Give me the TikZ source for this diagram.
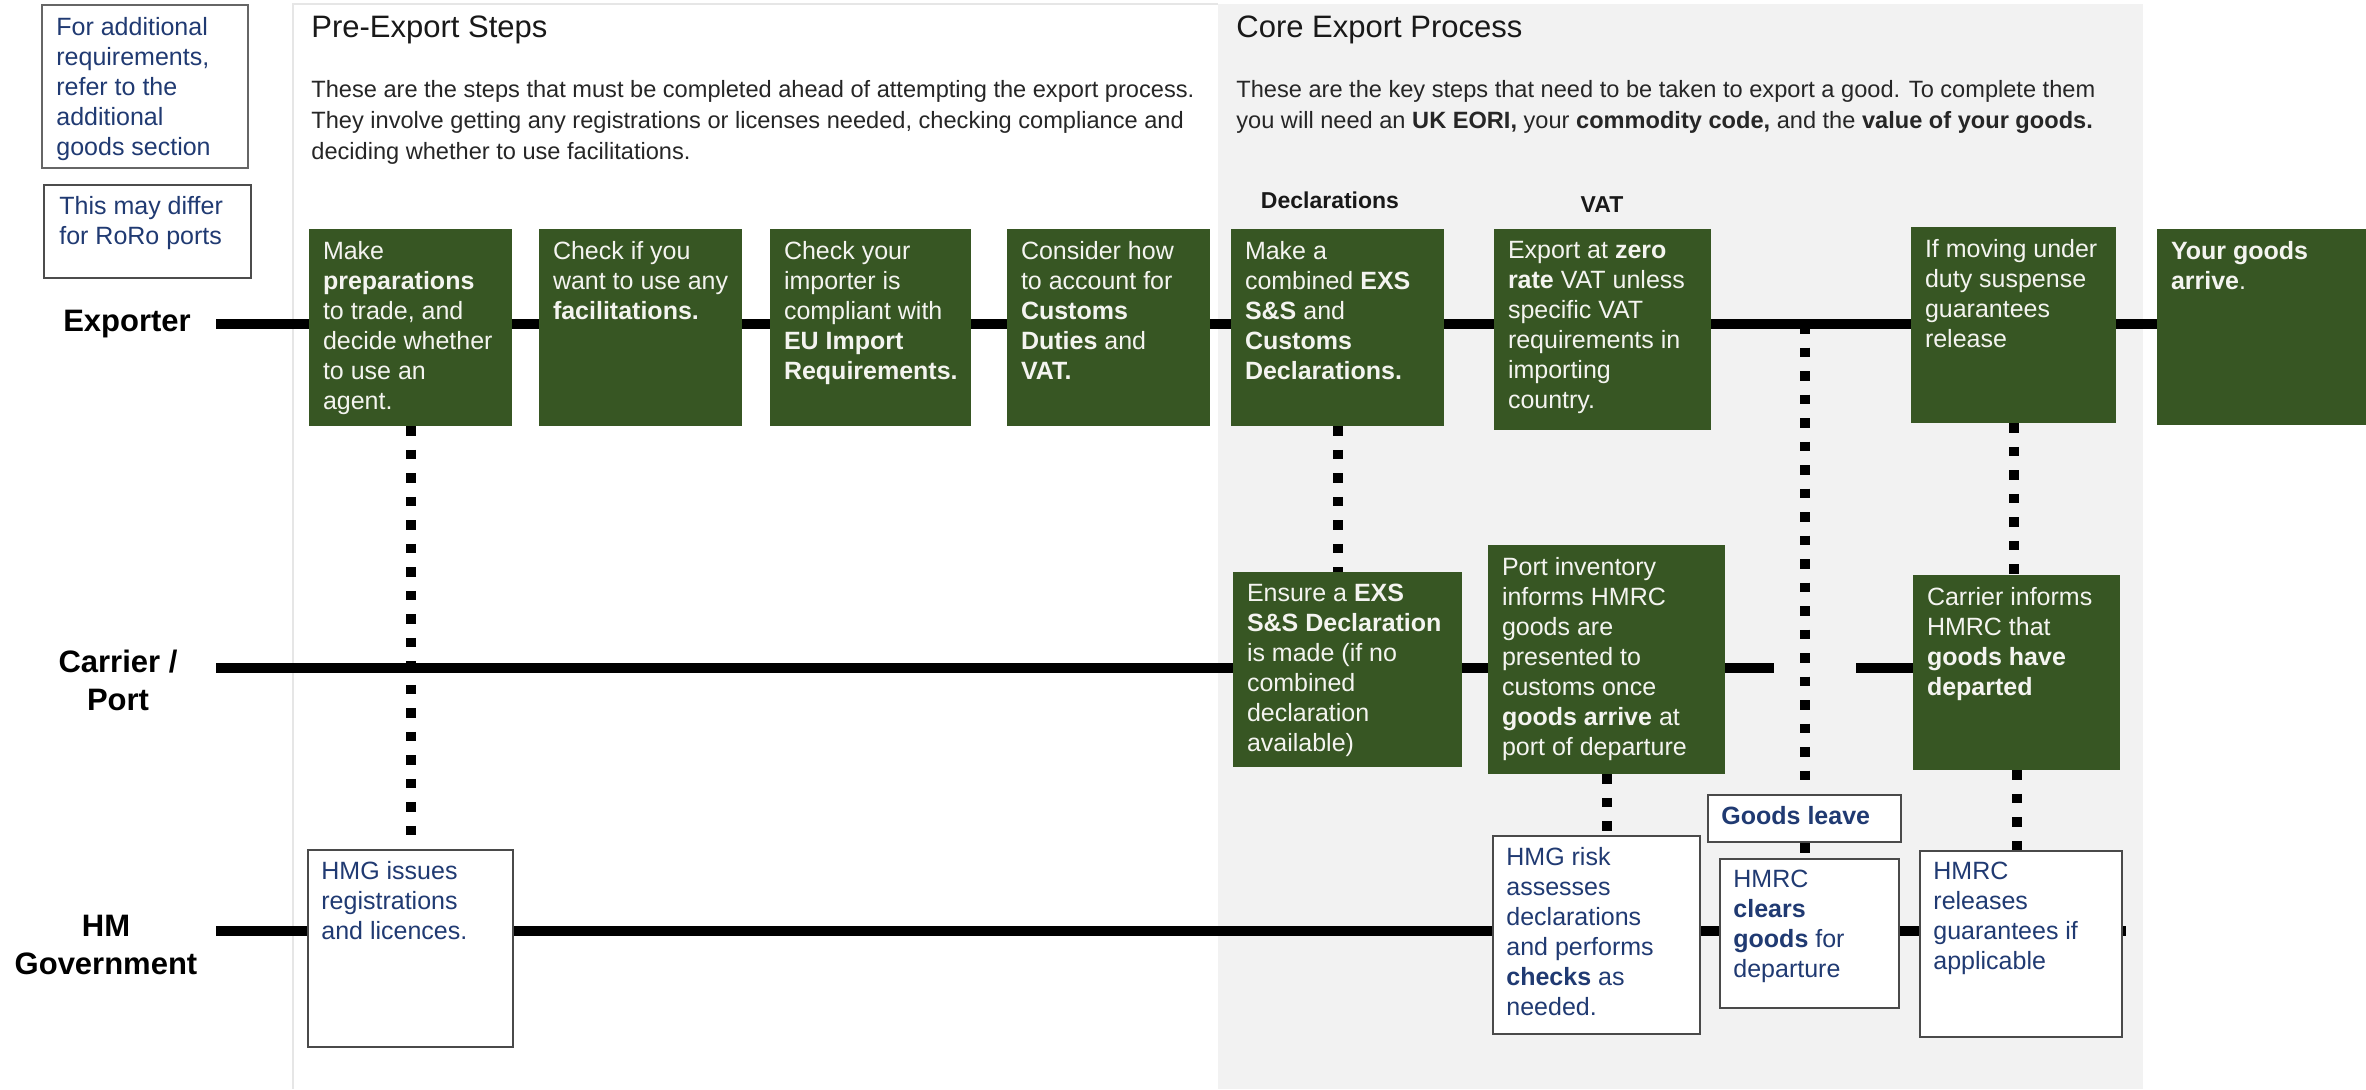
\documentclass[tikz,border=0pt]{standalone}
\usepackage{fontspec}
\setmainfont{Liberation Sans}
\usetikzlibrary{calc}
\definecolor{gfill}{HTML}{375623}
\definecolor{gtxt}{HTML}{F4F4F0}
\definecolor{navy}{HTML}{203A72}
\definecolor{coregray}{HTML}{F2F2F2}
\definecolor{boxline}{HTML}{4A4A4A}
\definecolor{faint}{HTML}{E6E6E6}
\pgfdeclarelayer{bgzero}
\pgfdeclarelayer{bgone}
\pgfsetlayers{bgzero,bgone,main}
\tikzset{
  lane/.style={line width=5pt, black},
  dots/.style={line width=5pt, black, dash pattern=on 4.75pt off 7pt},
  gbox/.style={rectangle, fill=gfill, draw=none, inner sep=0pt},
  wbox/.style={rectangle, fill=white, draw=boxline, line width=1pt, inner sep=0pt},
  gtext/.style={text=gtxt, align=left, inner sep=0pt, anchor=north west, font=\fontsize{12.5}{15}\selectfont},
  wtext/.style={text=navy, align=left, inner sep=0pt, anchor=north west, font=\fontsize{12.5}{15}\selectfont},
  lanelabel/.style={font=\fontsize{15.5}{19}\selectfont\bfseries, align=center, inner sep=0pt},
  titletext/.style={font=\fontsize{15.5}{19}\selectfont, anchor=west, inner sep=0pt, text=black!90},
  paratext/.style={font=\fontsize{11.8}{15.5}\selectfont, align=left, anchor=north west, inner sep=0pt, text=black!85},
  headtext/.style={font=\fontsize{11.5}{14}\selectfont\bfseries, inner sep=0pt, text=black!90},
}
% #1 style prefix (g or w), #2 name, #3-#6 x1 y1 x2 y2 (px), #7 text
\newcommand\mkbox[7]{%
  \node[#1box, minimum width={(#5-#3)*0.5pt}, minimum height={(#6-#4)*0.5pt}] (#2) at ({(#3+#5)/2},{(#4+#6)/2}) {};
  \node[#1text] (#2-t) at ([shift={(14,12)}]#2.north west) {#7};
}
\begin{document}
\begin{tikzpicture}[x=0.5pt, y=-0.5pt]
\useasboundingbox (0,0) rectangle (2366,1089);

% regions
\begin{pgfonlayer}{bgzero}
  \fill[white] (0,0) rectangle (2366,1089);
  \fill[coregray] (1218,4) rectangle (2143,1089);
  \draw[faint, line width=0.8pt] (293,1089) -- (293,4) -- (1218,4);
\end{pgfonlayer}

% note boxes
\node[wbox, draw=black!60, minimum width=103pt, minimum height=81.5pt] (n1) at (145,86.5) {};
\node[wtext] (n1-t) at ([shift={(15,13)}]n1.north west) {For additional\\requirements,\\refer to the\\additional\\goods section};
\node[wbox, draw=black!70, minimum width=103.5pt, minimum height=46.5pt] (n2) at (147.5,231.5) {};
\node[wtext] (n2-t) at ([shift={(16,12)}]n2.north west) {This may differ\\for RoRo ports};

% titles and paragraphs
\node[titletext] (pt) at (311,30) {Pre-Export Steps};
\node[paratext] (pp) at (311,80) {These are the steps that must be completed ahead of attempting the export process.\\They involve getting any registrations or licenses needed, checking compliance and\\deciding whether to use facilitations.};
\node[titletext] (ct) at (1236,30) {Core Export Process};
\node[paratext] (cp) at (1236,80) {These are the key steps that need to be taken to export a good. To complete them\\you will need an \textbf{UK EORI,} your \textbf{commodity code,} and the \textbf{value of your goods.}};
\node[headtext] (decl) at (1330,200) {Declarations};
\node[headtext] (vat) at (1602,205) {VAT};

% lane labels
\node[lanelabel] (lexp) at (127,324) {Exporter};
\node[lanelabel] (lcar) at (118,680) {Carrier /\\Port};
\node[lanelabel] (lhmg) at (106,945) {HM\\Government};

% exporter row
\mkbox{g}{g1}{309}{229}{512}{426}{Make\\\textbf{preparations}\\to trade, and\\decide whether\\to use an\\agent.}
\mkbox{g}{g2}{539}{229}{742}{426}{Check if you\\want to use any\\\textbf{facilitations.}}
\mkbox{g}{g3}{770}{229}{971}{426}{Check your\\importer is\\compliant with\\\textbf{EU Import}\\\textbf{Requirements.}}
\mkbox{g}{g4}{1007}{229}{1210}{426}{Consider how\\to account for\\\textbf{Customs}\\\textbf{Duties} and\\\textbf{VAT.}}
\mkbox{g}{g5}{1231}{229}{1444}{426}{Make a\\combined \textbf{EXS}\\\textbf{S\&S} and\\\textbf{Customs}\\\textbf{Declarations.}}
\mkbox{g}{g6}{1494}{229}{1711}{430}{Export at \textbf{zero}\\\textbf{rate} VAT unless\\specific VAT\\requirements in\\importing\\country.}
\mkbox{g}{g7}{1911}{227}{2116}{423}{If moving under\\duty suspense\\guarantees\\release}
\mkbox{g}{g8}{2157}{229}{2366}{425}{\textbf{Your goods}\\\textbf{arrive}.}

% carrier row
\mkbox{g}{ens}{1233}{572}{1462}{767}{Ensure a \textbf{EXS}\\\textbf{S\&S Declaration}\\is made (if no\\combined\\declaration\\available)}
\mkbox{g}{port}{1488}{545}{1725}{774}{Port inventory\\informs HMRC\\goods are\\presented to\\customs once\\\textbf{goods arrive} at\\port of departure}
\mkbox{g}{ci}{1913}{575}{2120}{770}{Carrier informs\\HMRC that\\\textbf{goods have}\\\textbf{departed}}

% government row
\mkbox{w}{hmg1}{308}{850}{513}{1047}{HMG issues\\registrations\\and licences.}
\mkbox{w}{risk}{1493}{836}{1700}{1034}{HMG risk\\assesses\\declarations\\and performs\\\textbf{checks} as\\needed.}
\mkbox{w}{gl}{1708}{795}{1901}{842}{\textbf{Goods leave}}
\mkbox{w}{hc}{1720}{859}{1899}{1008}{HMRC\\\textbf{clears}\\\textbf{goods} for\\departure}
\mkbox{w}{hr}{1920}{851}{2122}{1037}{HMRC\\releases\\guarantees if\\applicable}

% lanes and dotted links
\coordinate (e0) at (216,324);
\coordinate (c0) at (216,668);
\coordinate (c1) at (1774,668);
\coordinate (c2) at (1856,668);
\coordinate (h0) at (216,931);
\coordinate (h1) at (2126,931);
\begin{pgfonlayer}{bgone}
  \draw[lane] (e0) -- (e0 -| g8.west);
  \draw[lane] (c0) -- (c0 -| ens.west);
  \draw[lane] (c0 -| ens.east) -- (c0 -| port.west);
  \draw[lane] (c0 -| port.east) -- (c1);
  \draw[lane] (c2) -- (c2 -| ci.west);
  \draw[lane] (h0) -- (h1);
  \draw[dots] (g1.south) -- (hmg1.north);
  \draw[dots] (g5.south) -- (g5.south |- ens.north);
  \draw[dots] (port.south) -- (port.south |- risk.north);
  \draw[dots] (gl.north |- e0) -- (gl.north);
  \draw[dots] (gl.south) -- (gl.south |- hc.north);
  \draw[dots] (g7.south) -- (g7.south |- ci.north);
  \draw[dots] (ci.south) -- (ci.south |- hr.north);
\end{pgfonlayer}
\end{tikzpicture}
\end{document}
